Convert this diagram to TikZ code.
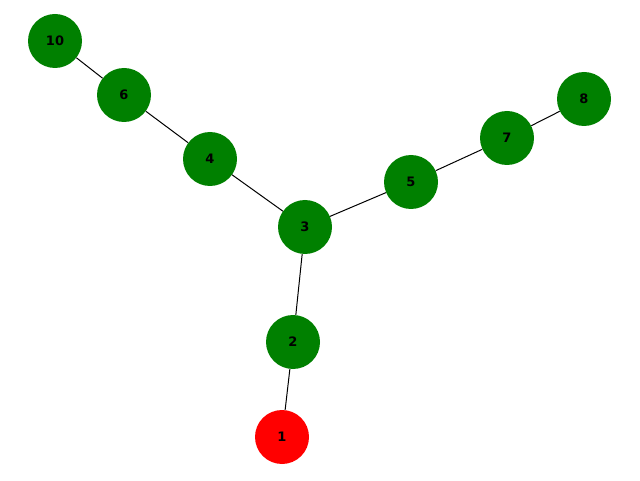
\documentclass[tikz,border=0pt]{standalone}
\usepackage{fontspec}
\setmainfont{DejaVu Sans}
\begin{document}
\begin{tikzpicture}[x=1pt,y=1pt,
  nd/.style={circle,fill=green!50!black,minimum size=54pt,inner sep=0pt,font=\fontsize{13pt}{15pt}\selectfont\bfseries},
  nr/.style={nd,fill=red},
  ed/.style={draw=black,line width=1pt}]
\useasboundingbox (0,0) rectangle (640,480);
\node[nd] (n10) at (55,439) {10};
\node[nd] (n6) at (124,385) {6};
\node[nd] (n4) at (210,321) {4};
\node[nd] (n3) at (305,253) {3};
\node[nd] (n5) at (411,298) {5};
\node[nd] (n7) at (507,342) {7};
\node[nd] (n8) at (584,381) {8};
\node[nd] (n2) at (293,138) {2};
\node[nr] (n1) at (282,43) {1};
\draw[ed] (n10) -- (n6);
\draw[ed] (n6) -- (n4);
\draw[ed] (n4) -- (n3);
\draw[ed] (n3) -- (n5);
\draw[ed] (n5) -- (n7);
\draw[ed] (n7) -- (n8);
\draw[ed] (n3) -- (n2);
\draw[ed] (n2) -- (n1);
\end{tikzpicture}
\end{document}
